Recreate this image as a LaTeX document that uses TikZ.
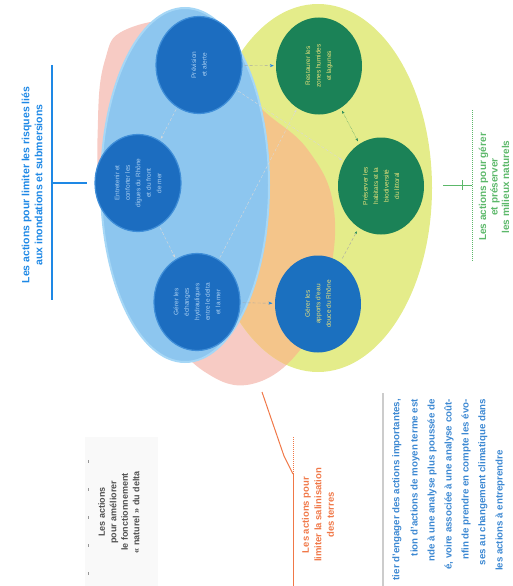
\documentclass[tikz,border=0pt]{standalone}
\usepackage{fontspec}
\setmainfont{Liberation Sans}
\usetikzlibrary{calc,shapes.geometric,arrows.meta}

\definecolor{bleuclair}{HTML}{8DC6EF}
\definecolor{bleurim}{HTML}{A6D7F6}
\definecolor{bleufonce}{HTML}{1C6DC0}
\definecolor{bleubord}{HTML}{3F8ED8}
\definecolor{bleuvif}{HTML}{1B70BF}
\definecolor{vertfonce}{HTML}{1B8257}
\definecolor{jaunefond}{HTML}{E4EC8A}
\definecolor{orangefond}{HTML}{F4C58A}
\definecolor{rosefond}{HTML}{F7CBC4}
\definecolor{texteclair}{HTML}{A9CFF2}
\definecolor{textejaune}{HTML}{E9E27C}
\definecolor{bleutitre}{HTML}{1E88E5}
\definecolor{verttitre}{HTML}{5CB86A}
\definecolor{orangetitre}{HTML}{F07848}
\definecolor{gristitre}{HTML}{505050}
\definecolor{bleupar}{HTML}{3C88D2}

\begin{document}
\begin{tikzpicture}[x=1pt,y=-1pt,>=stealth,
    cercle/.style={ellipse,rotate=90,minimum width=97pt,minimum height=86pt,inner sep=0pt,align=center,font=\fontsize{6.5}{10.5}\selectfont},
    cbleu/.style={cercle,fill=bleufonce,draw=bleubord,line width=1.2pt,text=texteclair},
    cvert/.style={cercle,fill=vertfonce,text=textejaune},
    titre/.style={rotate=90,align=center,font=\bfseries\fontsize{10.5}{13}\selectfont},
    ligne/.style={rotate=90,anchor=east,inner sep=0pt,text=bleupar,font=\bfseries\fontsize{9.7}{11}\selectfont},
    lien/.style={densely dashed,gray!70,thin,shorten >=2pt,shorten <=2pt},
    lienpale/.style={lien,gray!30,-{Stealth[length=3pt]}}]

    \useasboundingbox (0,0) rectangle (513,586);

    % 背景区域
    \fill[rosefond] plot[smooth cycle,tension=0.7] coordinates {(125,30) (185,22) (222,55) (258,105) (308,150) (334,210) (326,290) (300,350) (252,384) (205,372) (168,330) (132,262) (102,200) (98,120) (105,60)};
    \fill[jaunefond] (318,188) ellipse [x radius=114,y radius=184];
    \begin{scope}
        \clip plot[smooth cycle,tension=0.7] coordinates {(125,30) (185,22) (222,55) (258,105) (308,150) (334,210) (326,290) (300,350) (252,384) (205,372) (168,330) (132,262) (102,200) (98,120) (105,60)};
        \fill[orangefond] (318,188) ellipse [x radius=114,y radius=184];
    \end{scope}
    \fill[bleuclair,draw=bleurim,line width=2pt] (185,185) ellipse [x radius=84,y radius=177];

    % 圆形节点
    \node[cbleu] (prevision) at (199,65) {Prévision\\et alerte};
    \node[cvert] (zoneshumides) at (319,66) {Restaurer les\\zones humides\\et lagunes};
    \node[cbleu] (digues) at (138,183) {Entretenir et\\conforter les\\digues du Rhône\\et du front\\de mer};
    \node[cvert] (littoral) at (381,186) {Préserver les\\habitats et la\\biodiversité\\du littoral};
    \node[cbleu] (echanges) at (197,302) {Gérer les\\échanges\\hydrauliques\\entre le delta\\et la mer};
    \node[cbleu,fill=bleuvif,draw=none,text=textejaune] (eaudouce) at (318,304) {Gérer les\\apports d'eau\\douce du Rhône};

    % 连线
    \draw[lienpale] (prevision) -- (digues);
    \draw[lienpale] (digues) -- (echanges);
    \draw[lienpale] (prevision) -- (littoral);
    \draw[lienpale] (echanges) -- (zoneshumides);
    \draw[lien,-{Stealth[length=4pt,bleutitre]}] (prevision) -- (zoneshumides);
    \draw[lien,-{Stealth[length=4pt,bleutitre]}] (echanges) -- (eaudouce);
    \draw[densely dotted,vertfonce,{Stealth[length=3pt]}-{Stealth[length=3pt]},shorten >=3pt,shorten <=3pt] (zoneshumides) -- (littoral);
    \draw[lien,-{Stealth[length=3pt,vertfonce]},shorten >=4pt,shorten <=4pt] (eaudouce) -- (littoral);

    % 左侧蓝色标题
    \node[titre,text=bleutitre] (titrerisques) at (32,185) {Les actions pour limiter les risques liés\\aux inondations et submersions};
    \coordinate (accrisques) at (52,183);
    \draw[bleutitre,line width=1.2pt] (52,65) -- (52,300);
    \draw[bleutitre,line width=1.2pt] (accrisques) -- ++(35,0);

    % 右侧绿色标题
    \node[titre,text=verttitre,font=\bfseries\fontsize{10}{11.5}\selectfont] (titremilieux) at (494,187) {Les actions pour gérer\\et préserver\\les milieux naturels};
    \coordinate (accmilieux) at (472,185);
    \draw[verttitre,densely dotted,line width=1pt] (472,110) -- (472,262);
    \draw[verttitre,line width=1pt] (accmilieux) -- ++(-29,0);
    \draw[verttitre,line width=0.8pt] (462,180) -- (462,190);

    % 橙色标题
    \node[titre,text=orangetitre,font=\bfseries\fontsize{9.5}{12.5}\selectfont] (titresalinisation) at (318,515) {Les actions pour\\limiter la salinisation\\des terres};
    \coordinate (basrose) at (262,392);
    \coordinate (coude) at (293,474);
    \draw[orangetitre,line width=1pt] (basrose) -- (284,456) -- (coude);
    \draw[orangetitre,line width=1pt] (coude) -- (293,586);
    \draw[orangetitre,densely dotted,line width=1pt] (293,437) -- (coude);

    % 灰色标题
    \fill[gray!5] (85,437) rectangle (158,586);
    \node[titre,text=gristitre,font=\bfseries\fontsize{9}{11.5}\selectfont] (titredelta) at (119,512) {Les actions\\pour améliorer\\le fonctionnement\\« naturel » du delta};
    \draw[gristitre!60,line width=1pt,dash pattern=on 3pt off 25pt] (88,460) -- (88,586);

    % 右下方文字段落
    \draw[gray!40,line width=1.5pt] (383,393) -- (383,586);
    \node[ligne] (par1) at (397,399) {tier d'engager des actions importantes,};
    \node[ligne] (par2) at (415,399) {tion d'actions de moyen terme est};
    \node[ligne] (par3) at (432,399) {nde à une analyse plus poussée de};
    \node[ligne] (par4) at (449,399) {é, voire associée à une analyse coût-};
    \node[ligne] (par5) at (466,399) {nfin de prendre en compte les évo-};
    \node[ligne] (par6) at (483,399) {ses au changement climatique dans};
    \node[ligne] (par7) at (500,450) {les actions à entreprendre};

\end{tikzpicture}
\end{document}
